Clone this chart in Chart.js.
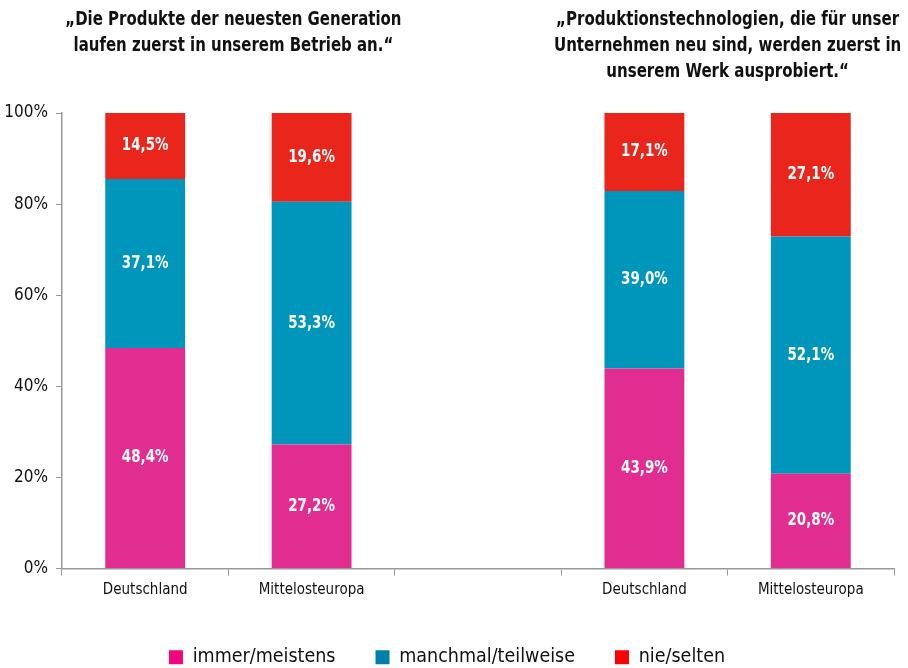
<!DOCTYPE html>
<html>
<head>
<meta charset="utf-8">
<script src="https://cdn.jsdelivr.net/npm/chart.js@4"></script>
<style>
  body { margin: 0; background: #fff; }
  #wrap { width: 908px; height: 668px; }
</style>
</head>
<body>
<div id="wrap"><canvas id="chart" width="908" height="668"></canvas></div>
<script>
const FONT = '"Liberation Sans Narrow", "DejaVu Sans Condensed", "Roboto Condensed", sans-serif';

const categories = ['Deutschland', 'Mittelosteuropa', '', 'Deutschland', 'Mittelosteuropa'];
const immer = [48.4, 27.2, null, 43.9, 20.8];
const manchmal = [37.1, 53.3, null, 39.0, 52.1];
const nie = [14.5, 19.6, null, 17.1, 27.1];
const seriesNames = ['immer/meistens', 'manchmal/teilweise', 'nie/selten'];
const yTicks = [0, 20, 40, 60, 80, 100];
const titleLeft = ['\u201EDie Produkte der neuesten Generation', 'laufen zuerst in unserem Betrieb an.\u201C'];
const titleRight = ['\u201EProduktionstechnologien, die f\u00FCr unser', 'Unternehmen neu sind, werden zuerst in', 'unserem Werk ausprobiert.\u201C'];

const barColors = ['#e12d90', '#0095bb', '#e9251c'];
const legendColors = ['#f0047f', '#0080a8', '#ff0000'];

// squeezed text, to get close to the condensed font of the original
function narrowText(ctx, text, x, y, sx) {
  ctx.save();
  ctx.translate(x, y);
  ctx.scale(sx, 1);
  ctx.fillText(text, 0, 0);
  ctx.restore();
}

// white value labels + titles
const extras = {
  id: 'extras',
  afterLayout(chart) {
    // push legend a little lower
    chart.legend.top += 9;
    chart.legend.bottom += 9;
  },
  afterDatasetsDraw(chart) {
    const ctx = chart.ctx;
    ctx.save();
    ctx.fillStyle = '#fff';
    ctx.font = 'bold 17px ' + FONT;
    ctx.textAlign = 'center';
    ctx.textBaseline = 'middle';
    chart.data.datasets.forEach((ds, i) => {
      chart.getDatasetMeta(i).data.forEach((bar, j) => {
        const v = ds.data[j];
        if (v == null) return;
        const p = bar.getProps(['x', 'y', 'base'], true);
        narrowText(ctx, v.toFixed(1).replace('.', ',') + '%', p.x, (p.y + p.base) / 2, 0.88);
      });
    });
    // titles
    const xs = chart.scales.x;
    ctx.fillStyle = '#111';
    ctx.font = 'bold 19px ' + FONT;
    const cl = (xs.getPixelForValue(0) + xs.getPixelForValue(1)) / 2 + 5;
    const cr = (xs.getPixelForValue(3) + xs.getPixelForValue(4)) / 2;
    titleLeft.forEach((t, k) => narrowText(ctx, t, cl, 20 + k * 26, 0.875));
    titleRight.forEach((t, k) => narrowText(ctx, t, cr, 20 + k * 26, 0.88));
    ctx.restore();
  }
};

new Chart(document.getElementById('chart'), {
  type: 'bar',
  data: {
    labels: categories,
    datasets: [
      { label: seriesNames[0], data: immer, backgroundColor: barColors[0] },
      { label: seriesNames[1], data: manchmal, backgroundColor: barColors[1] },
      { label: seriesNames[2], data: nie, backgroundColor: barColors[2] }
    ]
  },
  options: {
    responsive: false,
    animation: false,
    layout: { padding: { top: 113, right: 14, left: 0, bottom: 0 } },
    datasets: { bar: { categoryPercentage: 1, barPercentage: 0.48 } },
    plugins: {
      tooltip: { enabled: false },
      legend: {
        position: 'bottom',
        labels: {
          boxWidth: 14, boxHeight: 14, padding: 40,
          color: '#111',
          font: { family: FONT, size: 19.5 },
          generateLabels(chart) {
            return seriesNames.map((n, i) => ({
              text: n, fillStyle: legendColors[i], strokeStyle: legendColors[i],
              lineWidth: 0, datasetIndex: i, fontColor: '#111'
            }));
          }
        }
      }
    },
    scales: {
      x: {
        stacked: true,
        grid: { offset: true, drawOnChartArea: false, drawTicks: true, tickLength: 7, color: '#999' },
        border: { color: '#999', width: 1.5 },
        ticks: { color: '#111', font: { family: FONT, size: 15 }, padding: 6 },
        afterFit(s) { s.height = 30; }
      },
      y: {
        stacked: true,
        min: 0, max: 100,
        afterBuildTicks(s) { s.ticks = yTicks.map(v => ({ value: v })); },
        grid: { drawOnChartArea: false, drawTicks: true, tickLength: 6, color: '#999' },
        border: { color: '#999', width: 1.5 },
        ticks: {
          color: '#111', font: { family: FONT, size: 17 }, padding: 8,
          callback: v => v + '%'
        },
        afterFit(s) { s.width = 62; }
      }
    }
  },
  plugins: [extras]
});
</script>
</body>
</html>
